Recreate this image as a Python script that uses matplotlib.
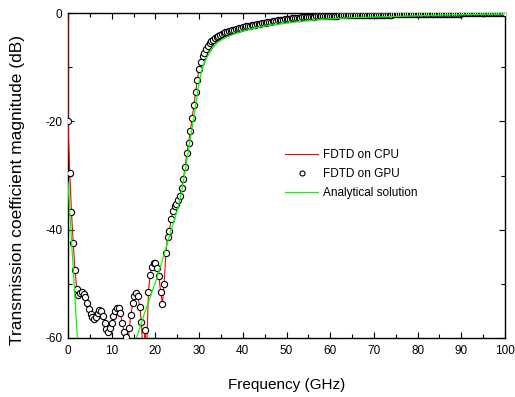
import numpy as np
import matplotlib
matplotlib.use("Agg")
import matplotlib.pyplot as plt
from matplotlib.ticker import MultipleLocator

plt.rcParams['font.family'] = ['Liberation Sans', 'DejaVu Sans']
plt.rcParams['axes.unicode_minus'] = False

FREQ = np.linspace(0.0, 100.0, 251)

# FDTD on GPU (circles), dB
GPU_DB = [
    -20.0, -29.5, -36.8, -42.5, -47.4, -51.0, -52.1, -51.7, -51.5, -51.8,
    -52.5, -53.5, -54.6, -55.6, -56.2, -56.5, -56.2, -55.4, -54.8, -55.0,
    -55.9, -57.3, -58.3, -58.8, -58.2, -57.3, -56.0, -55.0, -54.5, -54.4,
    -55.4, -57.2, -58.8, -59.8, -63.0, -58.2, -55.8, -53.6, -52.2, -51.7,
    -52.3, -54.2, -57.0, -64.0, -58.5, -62.5, -51.5, -48.3, -46.8, -46.1,
    -46.2, -47.0, -48.6, -51.5, -53.7, -50.0, -44.3, -41.3, -40.2, -38.0,
    -36.6, -35.7, -35.2, -34.6, -33.7, -32.3, -30.6, -28.4, -25.9, -24.0,
    -21.8, -19.4, -16.9, -14.5, -12.3, -10.3, -9.0, -8.0, -7.3, -6.6,
    -6.1, -5.6, -5.2, -4.9, -4.6, -4.4, -4.2, -4.0, -3.85, -3.7,
    -3.55, -3.45, -3.35, -3.25, -3.15, -3.05, -2.95, -2.87, -2.79, -2.71,
    -2.63, -2.55, -2.48, -2.41, -2.34, -2.27, -2.2, -2.13, -2.06, -2.0,
    -1.94, -1.88, -1.82, -1.76, -1.7, -1.64, -1.58, -1.52, -1.46, -1.41,
    -1.36, -1.31, -1.26, -1.21, -1.17, -1.13, -1.09, -1.05, -1.01, -0.97,
    -0.94, -0.91, -0.88, -0.85, -0.82, -0.79, -0.76, -0.73, -0.71, -0.69,
    -0.67, -0.65, -0.63, -0.61, -0.59, -0.57, -0.55, -0.54, -0.53, -0.52,
    -0.51, -0.5, -0.49, -0.48, -0.47, -0.46, -0.45, -0.45, -0.44, -0.44,
    -0.43, -0.43, -0.42, -0.42, -0.41, -0.41, -0.4, -0.4, -0.39, -0.39,
    -0.38, -0.37, -0.36, -0.35, -0.34, -0.33, -0.32, -0.32, -0.31, -0.31,
    -0.3, -0.3, -0.29, -0.29, -0.28, -0.28, -0.27, -0.27, -0.26, -0.26,
    -0.25, -0.25, -0.24, -0.24, -0.23, -0.23, -0.22, -0.22, -0.21, -0.21,
    -0.2, -0.2, -0.19, -0.19, -0.18, -0.18, -0.17, -0.17, -0.16, -0.16,
    -0.15, -0.15, -0.14, -0.14, -0.13, -0.13, -0.12, -0.12, -0.12, -0.11,
    -0.11, -0.11, -0.1, -0.1, -0.1, -0.09, -0.09, -0.09, -0.09, -0.08,
    -0.08, -0.08, -0.08, -0.07, -0.07, -0.07, -0.07, -0.07, -0.06, -0.06,
    -0.06, -0.06, -0.06, -0.05, -0.05, -0.05, -0.05, -0.05, -0.04, -0.04,
    -0.04,
]

# FDTD on CPU (red line): same run, but it starts from 0 dB at DC
CPU_FREQ = [0.0] + list(FREQ)
CPU_DB = [0.0] + GPU_DB

# Analytical solution (green), dB -- values below -60 fall outside the plot
ANALYTIC_DB = [
    -31.2, -36.6, -42.0, -47.3, -52.7, -58.0, -63.4, -75.0, -82.0, -86.0,
    -88.0, -90.0, -91.0, -92.0, -93.0, -93.0, -93.0, -93.0, -93.0, -93.0,
    -93.0, -93.0, -93.0, -92.0, -92.0, -91.0, -91.0, -90.0, -90.0, -89.0,
    -88.0, -84.0, -80.0, -76.0, -72.0, -68.0, -65.0, -62.8, -61.3, -60.2,
    -59.2, -58.2, -57.2, -56.2, -55.2, -54.3, -53.4, -52.5, -51.5, -50.6,
    -49.7, -48.7, -47.7, -46.7, -45.6, -44.5, -43.4, -42.3, -41.2, -40.1,
    -39.1, -38.1, -37.0, -35.8, -34.5, -32.9, -31.1, -29.2, -27.1, -25.1,
    -23.2, -21.3, -19.3, -17.2, -15.0, -12.9, -11.3, -10.1, -9.2, -8.5,
    -7.9, -7.35, -6.85, -6.4, -6.0, -5.65, -5.4, -5.15, -4.95, -4.75,
    -4.58, -4.42, -4.28, -4.14, -4.0, -3.88, -3.76, -3.65, -3.54, -3.44,
    -3.34, -3.25, -3.16, -3.08, -3.0, -2.92, -2.85, -2.78, -2.71, -2.64,
    -2.58, -2.52, -2.46, -2.4, -2.35, -2.3, -2.25, -2.2, -2.15, -2.1,
    -2.05, -2.0, -1.96, -1.92, -1.88, -1.84, -1.8, -1.76, -1.72, -1.68,
    -1.64, -1.6, -1.57, -1.54, -1.51, -1.48, -1.45, -1.42, -1.39, -1.36,
    -1.33, -1.3, -1.27, -1.24, -1.21, -1.19, -1.17, -1.15, -1.13, -1.11,
    -1.08, -1.06, -1.04, -1.02, -1.0, -0.98, -0.96, -0.94, -0.92, -0.9,
    -0.89, -0.88, -0.87, -0.86, -0.85, -0.84, -0.83, -0.82, -0.81, -0.8,
    -0.79, -0.78, -0.77, -0.76, -0.75, -0.74, -0.73, -0.72, -0.71, -0.7,
    -0.68, -0.67, -0.66, -0.65, -0.64, -0.62, -0.61, -0.6, -0.59, -0.58,
    -0.57, -0.56, -0.55, -0.54, -0.53, -0.52, -0.51, -0.5, -0.49, -0.48,
    -0.47, -0.46, -0.45, -0.44, -0.43, -0.42, -0.41, -0.4, -0.39, -0.38,
    -0.37, -0.36, -0.36, -0.35, -0.35, -0.34, -0.34, -0.33, -0.33, -0.32,
    -0.32, -0.31, -0.31, -0.3, -0.3, -0.29, -0.29, -0.28, -0.28, -0.27,
    -0.27, -0.27, -0.26, -0.26, -0.26, -0.25, -0.25, -0.25, -0.24, -0.24,
    -0.24, -0.23, -0.23, -0.23, -0.22, -0.22, -0.22, -0.21, -0.21, -0.21,
    -0.2,
]

LABELS = ["FDTD on CPU", "FDTD on GPU", "Analytical solution"]

fig = plt.figure(figsize=(5.15, 3.97), dpi=100)
ax = fig.add_axes([68 / 515, 59 / 397, 437 / 515, 325 / 397])

ax.plot(CPU_FREQ, CPU_DB, color='#ff0000', lw=0.8, zorder=3, label=LABELS[0])
ax.plot(FREQ, GPU_DB, linestyle='none', marker='o', markersize=4.5,
        markerfacecolor='white', markeredgecolor='black', markeredgewidth=0.8,
        zorder=4, label=LABELS[1])
ax.plot(FREQ, ANALYTIC_DB, color='#00ff00', lw=0.9, zorder=5, label=LABELS[2])

ax.set_xlim(0, 100)
ax.set_ylim(-60, 0)
ax.xaxis.set_major_locator(MultipleLocator(10))
ax.xaxis.set_minor_locator(MultipleLocator(5))
ax.yaxis.set_major_locator(MultipleLocator(20))
ax.yaxis.set_minor_locator(MultipleLocator(10))
ax.tick_params(which='both', direction='in', top=True, right=True,
               labelsize=8.5, width=0.8)
ax.tick_params(which='major', length=4.5)
ax.tick_params(which='minor', length=3)
ax.tick_params(axis='x', pad=5)
ax.tick_params(axis='y', pad=4)
for sp in ax.spines.values():
    sp.set_linewidth(1.0)

ax.set_xlabel('Frequency (GHz)', fontsize=11, labelpad=15)
ax.set_ylabel('Transmission coefficient magnitude (dB)', fontsize=12.5)
ax.yaxis.set_label_coords(-0.098, 0.455)

ax.legend(loc='upper left', bbox_to_anchor=(285 / 515, 1 - 149 / 397),
          bbox_transform=fig.transFigure, frameon=False, fontsize=8.5,
          handlelength=2.8, handletextpad=0.45, labelspacing=0.6,
          borderpad=0, borderaxespad=0, numpoints=1, markerscale=0.8)

fig.savefig('out.png', dpi=100)
